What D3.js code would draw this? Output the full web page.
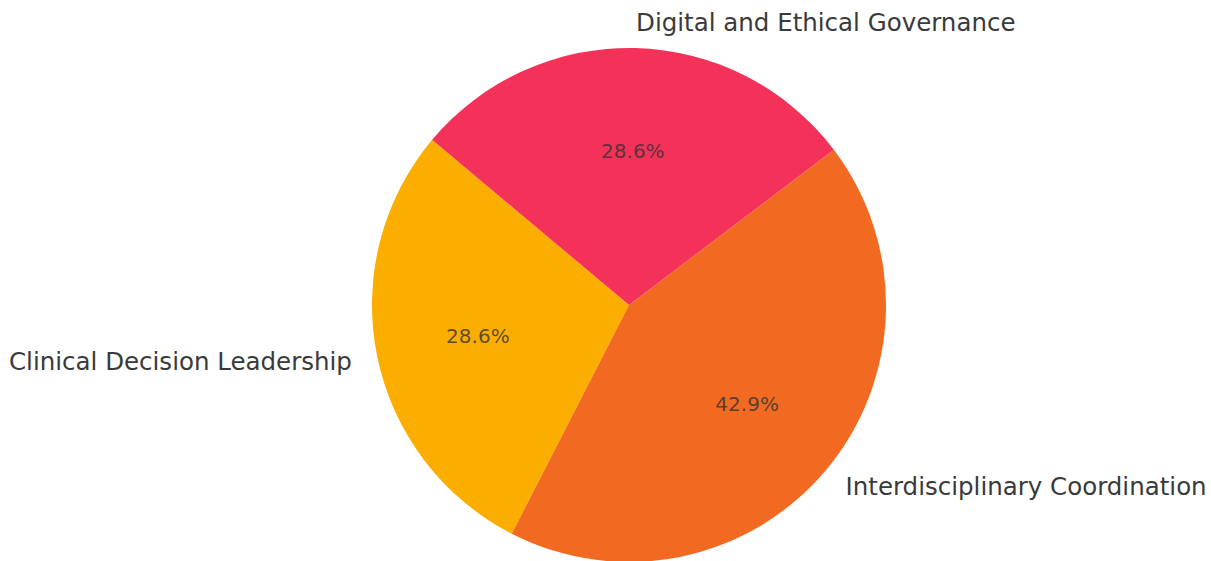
<!DOCTYPE html>
<html>
<head>
<meta charset="utf-8">
<script src="https://cdn.jsdelivr.net/npm/d3@7"></script>
<style>
  html, body { margin: 0; padding: 0; background: #fff; }
  svg { display: block; }
</style>
</head>
<body>
<svg id="chart" width="1211" height="561"></svg>
<script>
// Competency areas and their counts (shares of the whole)
const categories = ["Clinical Decision Leadership", "Interdisciplinary Coordination", "Digital and Ethical Governance"];
const counts = [2, 3, 2];
const colors = ["#FCAE00", "#F26A22", "#F43158"];

const width = 1211, height = 561;
const cx = 629, cy = 305, radius = 257;
const startDeg = 140; // first wedge starts here, measured counter-clockwise from 3 o'clock

const svg = d3.select("#chart");
const g = svg.append("g").attr("transform", `translate(${cx},${cy})`);

const total = d3.sum(counts);
const data = categories.map((c, i) => ({ label: c, value: counts[i], color: colors[i] }));

// d3.pie angles run clockwise from 12 o'clock; convert the counter-clockwise layout
const pie = d3.pie().sort(null).value(d => d.value)
  .startAngle(Math.PI / 2 - startDeg * Math.PI / 180)
  .endAngle(Math.PI / 2 - startDeg * Math.PI / 180 - 2 * Math.PI);

const arcs = pie(data);
const arc = d3.arc().innerRadius(0).outerRadius(radius);

g.selectAll("path.slice")
  .data(arcs)
  .join("path")
  .attr("class", "slice")
  .attr("d", arc)
  .attr("fill", d => d.data.color);

function mid(d) { return (d.startAngle + d.endAngle) / 2; }
function pos(d, r) {
  const a = mid(d);
  return [r * Math.sin(a), -r * Math.cos(a)];
}

// Category labels just outside the rim
g.selectAll("text.label")
  .data(arcs)
  .join("text")
  .attr("class", "label")
  .attr("x", d => pos(d, radius * 1.1)[0])
  .attr("y", d => pos(d, radius * 1.1)[1])
  .attr("text-anchor", d => pos(d, 1)[0] >= 0 ? "start" : "end")
  .attr("dominant-baseline", "central")
  .attr("font-family", "DejaVu Sans")
  .attr("font-size", 24.5)
  .attr("fill", "#3a3a3a")
  .text(d => d.data.label);

// Percentage labels inside the wedges
const fmt = d3.format(".1f");
g.selectAll("text.pct")
  .data(arcs)
  .join("text")
  .attr("class", "pct")
  .attr("x", d => pos(d, radius * 0.6)[0])
  .attr("y", d => pos(d, radius * 0.6)[1])
  .attr("text-anchor", "middle")
  .attr("dominant-baseline", "central")
  .attr("font-family", "DejaVu Sans")
  .attr("font-size", 20)
  .attr("fill", "#333")
  .attr("fill-opacity", 0.8)
  .text(d => fmt(d.data.value / total * 100) + "%");
</script>
</body>
</html>
